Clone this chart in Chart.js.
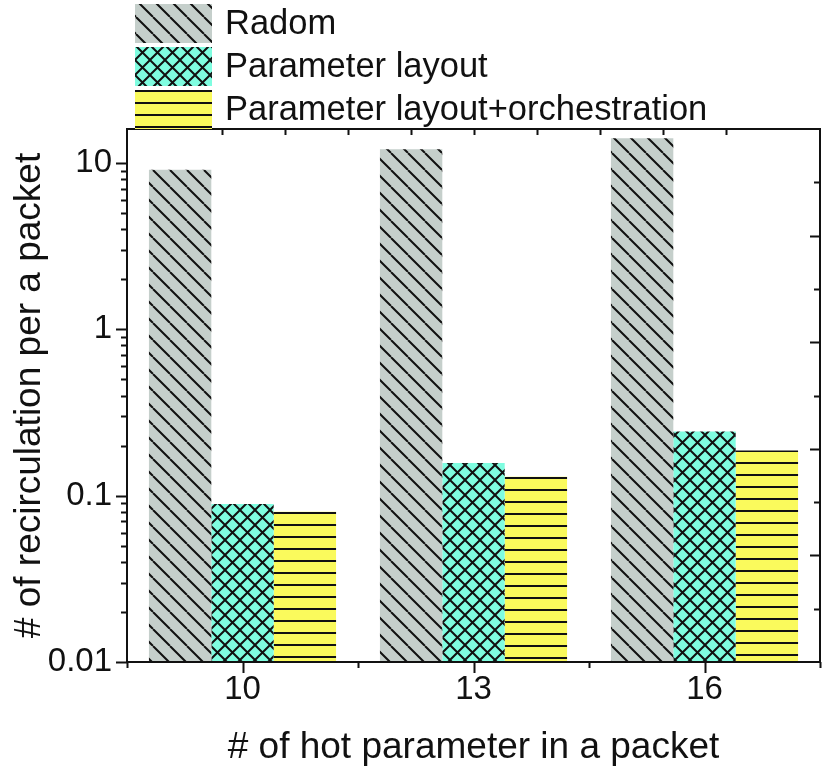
<!DOCTYPE html>
<html>
<head>
<meta charset="utf-8">
<script src="https://cdn.jsdelivr.net/npm/chart.js@4.4.0/dist/chart.umd.min.js"></script>
<style>
  html, body { margin: 0; padding: 0; background: #fff; }
</style>
</head>
<body>
<canvas id="myChart" width="831" height="773"></canvas>
<script>
var categories = ['10', '13', '16'];
var radom = [9.1, 12.1, 14.1];
var paramLayout = [0.089, 0.157, 0.243];
var paramOrch = [0.080, 0.130, 0.187];
var seriesNames = ['Radom', 'Parameter layout', 'Parameter layout+orchestration'];
var yTickLabels = [0.01, 0.1, 1, 10];

var FONT = '"Liberation Sans", Arial, Helvetica, sans-serif';
Chart.defaults.font.family = FONT;
Chart.defaults.color = '#111';

// hatch fills built as canvas patterns
function hatch(bg, kind, size) {
  var c = document.createElement('canvas');
  c.width = size;
  c.height = size;
  var g = c.getContext('2d');
  g.fillStyle = bg;
  g.fillRect(0, 0, size, size);
  g.strokeStyle = '#111';
  g.lineWidth = 2;
  g.beginPath();
  for (var k = -1; k <= 1; k++) {
    if (kind === 'back' || kind === 'cross') {
      g.moveTo(k * size, 0);
      g.lineTo(k * size + size, size);
    }
    if (kind === 'cross') {
      g.moveTo(k * size, size);
      g.lineTo(k * size + size, 0);
    }
  }
  if (kind === 'horiz') {
    g.moveTo(0, 1);
    g.lineTo(size, 1);
  }
  g.stroke();
  return g.createPattern(c, 'repeat');
}

var fillRadom = hatch('#c5cfcb', 'back', 17);
var fillLayout = hatch('#7ffde0', 'cross', 15);
// one pattern per yellow bar so the stripes start at each bar top
var fillOrch = categories.map(function () { return hatch('#fafa5c', 'horiz', 12); });
var fillOrchLegend = hatch('#fafa5c', 'horiz', 12);

function isDecade(v) {
  var l = Math.log10(v);
  return Math.abs(l - Math.round(l)) < 1e-6;
}

var alignStripes = {
  id: 'alignStripes',
  beforeDatasetsDraw: function (chart) {
    chart.getDatasetMeta(2).data.forEach(function (el, i) {
      fillOrch[i].setTransform(new DOMMatrix([1, 0, 0, 1, 0, Math.round(el.y)]));
    });
  }
};

// legend stacked above the plot
var legendBox = {
  id: 'legendBox',
  afterDraw: function (chart) {
    var ctx = chart.ctx;
    ctx.save();
    chart.data.datasets.forEach(function (ds, i) {
      var y = 4 + i * 43;
      var fill = ds.backgroundColor;
      if (i === 2) {
        fillOrchLegend.setTransform(new DOMMatrix([1, 0, 0, 1, 0, y]));
        fill = fillOrchLegend;
      }
      ctx.fillStyle = fill;
      ctx.fillRect(135, y, 77, 39);
      ctx.fillStyle = '#111';
      ctx.font = '34.5px ' + FONT;
      ctx.textBaseline = 'middle';
      ctx.textAlign = 'left';
      ctx.fillText(ds.label, 225, y + 20);
    });
    ctx.restore();
  }
};

// box frame plus Origin style ticks
var frameTicks = {
  id: 'frameTicks',
  afterDraw: function (chart) {
    var a = chart.chartArea, ctx = chart.ctx;
    var y = chart.scales.y, x = chart.scales.x;
    var yR = chart.scales.yR, xT = chart.scales.xT;
    ctx.save();
    ctx.strokeStyle = '#111';
    ctx.lineWidth = 2;
    ctx.beginPath();
    y.ticks.forEach(function (t) {
      var v = t.value;
      var sig = v / Math.pow(10, Math.floor(Math.log10(v) + 1e-9));
      if (Math.abs(sig - Math.round(sig)) > 1e-6) return;
      var p = Math.round(y.getPixelForValue(v)) + 0.5;
      var len = isDecade(v) ? 11 : 6;
      ctx.moveTo(a.left - len, p);
      ctx.lineTo(a.left, p);
    });
    var step = (x.getPixelForValue(1) - x.getPixelForValue(0)) / 2;
    categories.forEach(function (c, i) {
      var p = Math.round(x.getPixelForValue(i)) + 0.5;
      ctx.moveTo(p, a.bottom);
      ctx.lineTo(p, a.bottom + 11);
    });
    for (var i = 0; i <= categories.length; i++) {
      var q = Math.round(x.getPixelForValue(i) - step) + 0.5;
      ctx.moveTo(q, a.bottom);
      ctx.lineTo(q, a.bottom + 6);
    }
    for (var k = 1; k < 10; k++) {
      var px = Math.round(xT.getPixelForValue(k)) + 0.5;
      ctx.moveTo(px, a.top);
      ctx.lineTo(px, a.top + 6);
      var py = Math.round(yR.getPixelForValue(k)) + 0.5;
      var l = k % 2 === 0 ? 10 : 6;
      ctx.moveTo(a.right - l, py);
      ctx.lineTo(a.right, py);
    }
    ctx.stroke();
    ctx.strokeRect(a.left, a.top, a.right - a.left, a.bottom - a.top);
    ctx.restore();
  }
};

new Chart(document.getElementById('myChart'), {
  type: 'bar',
  data: {
    labels: categories,
    datasets: [
      { label: seriesNames[0], data: radom, backgroundColor: fillRadom, borderWidth: 0 },
      { label: seriesNames[1], data: paramLayout, backgroundColor: fillLayout, borderWidth: 0 },
      { label: seriesNames[2], data: paramOrch, backgroundColor: fillOrch, borderWidth: 0 }
    ]
  },
  options: {
    responsive: false,
    devicePixelRatio: 1,
    animation: false,
    layout: { padding: { top: 129, right: 11, left: 0, bottom: 0 } },
    datasets: { bar: { categoryPercentage: 0.81, barPercentage: 1.0 } },
    plugins: {
      legend: { display: false },
      tooltip: { enabled: false }
    },
    scales: {
      x: {
        grid: { display: false, drawTicks: false },
        border: { display: false },
        ticks: { font: { size: 33 }, padding: 8 },
        title: {
          display: true,
          text: '# of hot parameter in a packet',
          font: { size: 37 },
          padding: { top: 0, bottom: 3 }
        },
        afterFit: function (s) { s.height = 111; }
      },
      xT: {
        type: 'linear',
        axis: 'x',
        position: 'top',
        display: false,
        min: 0,
        max: 10
      },
      y: {
        type: 'logarithmic',
        min: 0.01,
        max: 16,
        grid: { display: false, drawTicks: false },
        border: { display: false },
        ticks: {
          autoSkip: false,
          font: { size: 33 },
          padding: 15,
          callback: function (v) {
            return yTickLabels.indexOf(v) >= 0 || (isDecade(v) && v <= 10) ? String(v) : '';
          }
        },
        title: {
          display: true,
          text: '# of recirculation per a packet',
          font: { size: 37 },
          padding: { top: 8, bottom: 0 }
        },
        afterFit: function (s) { s.width = 127; }
      },
      yR: {
        type: 'linear',
        position: 'right',
        display: false,
        min: 0,
        max: 10
      }
    }
  },
  plugins: [alignStripes, frameTicks, legendBox]
});
</script>
</body>
</html>
